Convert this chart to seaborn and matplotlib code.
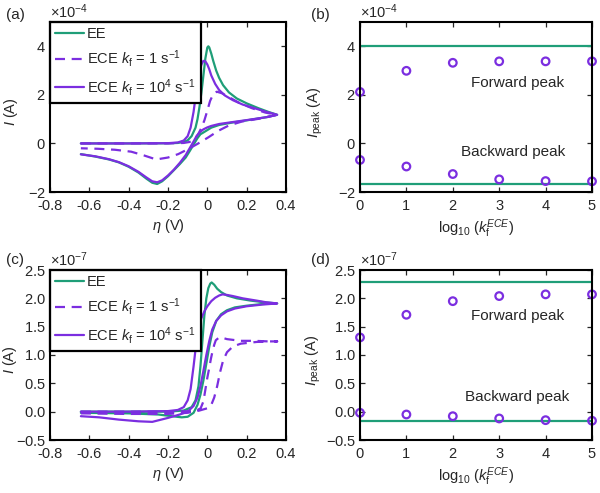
import numpy as np
import pandas as pd
import matplotlib
matplotlib.use("Agg")
import matplotlib.pyplot as plt
import seaborn as sns

# ---------------- data ----------------
# Panel (a): CV curves, current in units of 1e-4 A
a_ee_fwd_x = [-0.643, -0.4, -0.2, -0.15, -0.12, -0.1, -0.08, -0.06, -0.05, -0.04, -0.03, -0.02, -0.01, 0.0, 0.005, 0.01, 0.02, 0.03, 0.045, 0.06, 0.08, 0.11, 0.15, 0.2, 0.26, 0.31, 0.355]
a_ee_fwd_y = [0.0, 0.0, 0.005, 0.02, 0.06, 0.13, 0.3, 0.65, 1.0, 1.5, 2.1, 2.8, 3.5, 3.95, 4.0, 3.95, 3.7, 3.4, 3.0, 2.7, 2.4, 2.1, 1.85, 1.65, 1.45, 1.3, 1.18]
a_ee_bwd_x = [0.355, 0.3, 0.2, 0.12, 0.06, 0.02, 0.0, -0.02, -0.035, -0.05, -0.07, -0.09, -0.11, -0.14, -0.17, -0.2, -0.23, -0.255, -0.28, -0.31, -0.35, -0.4, -0.45, -0.5, -0.57, -0.643]
a_ee_bwd_y = [1.18, 1.08, 0.95, 0.85, 0.76, 0.65, 0.55, 0.45, 0.38, 0.22, -0.05, -0.32, -0.58, -0.85, -1.1, -1.35, -1.56, -1.67, -1.62, -1.45, -1.2, -0.96, -0.78, -0.66, -0.54, -0.44]

a_k1_fwd_x = [-0.643, -0.4, -0.2, -0.12, -0.09, -0.063, -0.045, -0.029, -0.015, -0.003, 0.014, 0.03, 0.048, 0.073, 0.107, 0.16, 0.227, 0.295, 0.355]
a_k1_fwd_y = [0.0, 0.0, 0.0, 0.02, 0.06, 0.18, 0.4, 0.66, 0.95, 1.27, 1.75, 2.03, 2.13, 2.07, 1.92, 1.68, 1.45, 1.27, 1.18]
a_k1_bwd_x = [0.355, 0.28, 0.175, 0.107, 0.056, 0.005, -0.046, -0.097, -0.148, -0.2, -0.26, -0.32, -0.387, -0.47, -0.557, -0.643]
a_k1_bwd_y = [1.18, 1.04, 0.9, 0.73, 0.52, 0.25, 0.0, -0.23, -0.44, -0.58, -0.66, -0.5, -0.34, -0.26, -0.22, -0.2]

a_k4_fwd_x = [-0.643, -0.4, -0.2, -0.15, -0.12, -0.1, -0.085, -0.07, -0.06, -0.05, -0.04, -0.03, -0.02, -0.01, 0.0, 0.01, 0.02, 0.04, 0.06, 0.09, 0.13, 0.18, 0.24, 0.3, 0.355]
a_k4_fwd_y = [0.0, 0.0, 0.01, 0.04, 0.12, 0.3, 0.65, 1.3, 1.9, 2.5, 2.95, 3.25, 3.4, 3.38, 3.25, 3.05, 2.8, 2.45, 2.2, 1.97, 1.78, 1.6, 1.45, 1.3, 1.18]
a_k4_bwd_x = [0.355, 0.3, 0.2, 0.12, 0.06, 0.02, 0.0, -0.02, -0.04, -0.055, -0.07, -0.09, -0.11, -0.14, -0.17, -0.2, -0.23, -0.255, -0.28, -0.31, -0.35, -0.4, -0.45, -0.5, -0.57, -0.643]
a_k4_bwd_y = [1.18, 1.08, 0.96, 0.87, 0.8, 0.72, 0.66, 0.58, 0.45, 0.3, 0.08, -0.2, -0.48, -0.8, -1.08, -1.32, -1.52, -1.6, -1.56, -1.4, -1.17, -0.94, -0.77, -0.65, -0.53, -0.45]

# Panel (c): CV curves, current in units of 1e-7 A
c_ee_fwd_x = [-0.643, -0.4, -0.2, -0.12, -0.08, -0.06, -0.045, -0.035, -0.025, -0.015, -0.005, 0.005, 0.015, 0.022, 0.035, 0.05, 0.07, 0.1, 0.15, 0.22, 0.29, 0.355]
c_ee_fwd_y = [0.0, 0.0, 0.0, 0.02, 0.08, 0.2, 0.45, 0.8, 1.25, 1.7, 2.0, 2.18, 2.26, 2.28, 2.24, 2.17, 2.11, 2.05, 2.0, 1.96, 1.93, 1.91]
c_ee_bwd_x = [0.355, 0.28, 0.2, 0.14, 0.1, 0.07, 0.045, 0.025, 0.01, -0.005, -0.02, -0.035, -0.05, -0.07, -0.1, -0.13, -0.18, -0.25, -0.4, -0.643]
c_ee_bwd_y = [1.91, 1.9, 1.87, 1.84, 1.79, 1.72, 1.6, 1.4, 1.15, 0.85, 0.55, 0.3, 0.12, -0.02, -0.09, -0.1, -0.08, -0.05, -0.03, -0.02]

c_k1_fwd_x = [-0.643, -0.4, -0.2, -0.08, -0.05, -0.034, -0.02, -0.009, 0.0, 0.009, 0.018, 0.026, 0.035, 0.043, 0.06, 0.08, 0.1, 0.17, 0.24, 0.31, 0.355]
c_k1_fwd_y = [0.0, 0.0, 0.0, 0.01, 0.03, 0.06, 0.18, 0.41, 0.6, 0.76, 0.93, 1.06, 1.18, 1.26, 1.31, 1.3, 1.28, 1.25, 1.25, 1.24, 1.24]
c_k1_bwd_x = [0.355, 0.3, 0.25, 0.17, 0.13, 0.1, 0.08, 0.065, 0.05, 0.035, 0.02, 0.0, -0.04, -0.1, -0.2, -0.4, -0.643]
c_k1_bwd_y = [1.24, 1.24, 1.23, 1.2, 1.15, 1.05, 0.9, 0.7, 0.45, 0.25, 0.12, 0.06, 0.02, -0.02, -0.04, -0.04, -0.03]

c_k4_fwd_x = [-0.643, -0.4, -0.2, -0.15, -0.12, -0.1, -0.085, -0.07, -0.06, -0.05, -0.04, -0.03, -0.015, 0.0, 0.02, 0.04, 0.06, 0.077, 0.1, 0.13, 0.18, 0.25, 0.3, 0.355]
c_k4_fwd_y = [0.0, 0.0, 0.01, 0.03, 0.08, 0.2, 0.4, 0.8, 1.1, 1.35, 1.53, 1.65, 1.77, 1.86, 1.95, 2.01, 2.05, 2.07, 2.06, 2.04, 2.0, 1.96, 1.93, 1.91]
c_k4_bwd_x = [0.355, 0.28, 0.2, 0.14, 0.1, 0.07, 0.045, 0.025, 0.01, -0.005, -0.02, -0.035, -0.05, -0.07, -0.1, -0.14, -0.2, -0.28, -0.35, -0.45, -0.55, -0.643]
c_k4_bwd_y = [1.91, 1.89, 1.86, 1.82, 1.77, 1.7, 1.6, 1.45, 1.25, 1.0, 0.72, 0.45, 0.25, 0.1, 0.0, -0.05, -0.11, -0.18, -0.17, -0.14, -0.1, -0.08]

# Panels (b) and (d): peak currents vs log10(kf)
log_kf = [0, 1, 2, 3, 4, 5]
b_fwd_peak = [2.12, 2.99, 3.32, 3.38, 3.38, 3.38]        # x1e-4 A
b_bwd_peak = [-0.68, -0.95, -1.26, -1.48, -1.55, -1.56]  # x1e-4 A
b_ee_fwd, b_ee_bwd = 4.01, -1.66                          # x1e-4 A
d_fwd_peak = [1.31, 1.71, 1.95, 2.04, 2.07, 2.07]         # x1e-7 A
d_bwd_peak = [-0.02, -0.05, -0.08, -0.12, -0.15, -0.16]  # x1e-7 A
d_ee_fwd, d_ee_bwd = 2.28, -0.165                         # x1e-7 A

SCALE_A, SCALE_C = 1e-4, 1e-7

legend_labels = ["EE", r"ECE $k_\mathrm{f}$ = 1 s$^{-1}$", r"ECE $k_\mathrm{f}$ = 10$^4$ s$^{-1}$"]

# ---------------- style ----------------
sns.set_style("ticks")
plt.rcParams["font.family"] = ["Liberation Sans", "DejaVu Sans"]
plt.rcParams["mathtext.fontset"] = "custom"
plt.rcParams["mathtext.rm"] = "Liberation Sans"
plt.rcParams["mathtext.it"] = "Liberation Sans:italic"
plt.rcParams["mathtext.bf"] = "Liberation Sans:bold"
plt.rcParams["axes.unicode_minus"] = False
plt.rcParams["xtick.direction"] = "in"
plt.rcParams["ytick.direction"] = "in"
plt.rcParams["xtick.top"] = True
plt.rcParams["ytick.right"] = True

GREEN = "#1f9e78"
PURPLE = "#7b2ee0"
LW = 1.6
FS = 10.5

fig = plt.figure(figsize=(6.0, 4.93), dpi=100)
ax_a = fig.add_axes([50/600, 1-192/493, 236/600, 170/493])
ax_b = fig.add_axes([360/600, 1-192/493, 232/600, 170/493])
ax_c = fig.add_axes([50/600, 1-440/493, 236/600, 170/493])
ax_d = fig.add_axes([360/600, 1-440/493, 232/600, 170/493])


def curve_df(xs, ys, scale):
    return pd.DataFrame({"x": xs, "y": np.asarray(ys) * scale})


def draw_cv(ax, ee, k1, k4, scale):
    (ef_x, ef_y, eb_x, eb_y) = ee
    (k1f_x, k1f_y, k1b_x, k1b_y) = k1
    (k4f_x, k4f_y, k4b_x, k4b_y) = k4
    sns.lineplot(data=curve_df(ef_x + eb_x, ef_y + eb_y, scale), x="x", y="y", sort=False,
                 estimator=None, color=GREEN, lw=LW, ax=ax, label=legend_labels[0])
    sns.lineplot(data=curve_df(k1f_x + k1b_x, k1f_y + k1b_y, scale), x="x", y="y", sort=False,
                 estimator=None, color=PURPLE, lw=LW, ax=ax, label=legend_labels[1],
                 linestyle=(0, (4.5, 3.0)))
    sns.lineplot(data=curve_df(k4f_x + k4b_x, k4f_y + k4b_y, scale), x="x", y="y", sort=False,
                 estimator=None, color=PURPLE, lw=LW, ax=ax, label=legend_labels[2])
    ax.set_xlim(-0.8, 0.4)
    ax.set_xticks([-0.8, -0.6, -0.4, -0.2, 0, 0.2, 0.4])
    ax.set_xticklabels(["-0.8", "-0.6", "-0.4", "-0.2", "0", "0.2", "0.4"])
    ax.set_xlabel(r"$\eta$ (V)", fontsize=FS, labelpad=3)
    ax.set_ylabel(r"$I$ (A)", fontsize=FS)
    leg = ax.legend(loc="upper left", bbox_to_anchor=(0, 1), borderaxespad=0, fontsize=10.5,
                    frameon=True, fancybox=False, framealpha=1, edgecolor="black",
                    handlelength=2.0, handletextpad=0.2, labelspacing=0.5, borderpad=0.35)
    leg.get_frame().set_linewidth(1.6)


def draw_peaks(ax, fwd, bwd, ee_f, ee_b, scale):
    ax.axhline(ee_f * scale, color=GREEN, lw=LW)
    ax.axhline(ee_b * scale, color=GREEN, lw=LW)
    df = pd.DataFrame({"x": log_kf + log_kf,
                       "y": np.concatenate([np.asarray(fwd), np.asarray(bwd)]) * scale})
    sns.scatterplot(data=df, x="x", y="y", ax=ax, marker="o", s=30, facecolor="none",
                    edgecolor=PURPLE, linewidth=1.6, clip_on=False, zorder=5)
    ax.set_xlim(0, 5)
    ax.set_xticks(log_kf)
    ax.set_xlabel(r"log$_{10}$ ($k_\mathrm{f}^{ECE}$)", fontsize=FS, labelpad=3)
    ax.set_ylabel(r"$I_\mathrm{peak}$ (A)", fontsize=FS)


draw_cv(ax_a, (a_ee_fwd_x, a_ee_fwd_y, a_ee_bwd_x, a_ee_bwd_y),
        (a_k1_fwd_x, a_k1_fwd_y, a_k1_bwd_x, a_k1_bwd_y),
        (a_k4_fwd_x, a_k4_fwd_y, a_k4_bwd_x, a_k4_bwd_y), SCALE_A)
draw_cv(ax_c, (c_ee_fwd_x, c_ee_fwd_y, c_ee_bwd_x, c_ee_bwd_y),
        (c_k1_fwd_x, c_k1_fwd_y, c_k1_bwd_x, c_k1_bwd_y),
        (c_k4_fwd_x, c_k4_fwd_y, c_k4_bwd_x, c_k4_bwd_y), SCALE_C)
draw_peaks(ax_b, b_fwd_peak, b_bwd_peak, b_ee_fwd, b_ee_bwd, SCALE_A)
draw_peaks(ax_d, d_fwd_peak, d_bwd_peak, d_ee_fwd, d_ee_bwd, SCALE_C)

for ax in (ax_a, ax_b):
    ax.set_ylim(-2e-4, 5e-4)
    ax.set_yticks([-2e-4, 0, 2e-4, 4e-4])
for ax in (ax_c, ax_d):
    ax.set_ylim(-0.5e-7, 2.5e-7)
    ax.set_yticks([-0.5e-7, 0, 0.5e-7, 1e-7, 1.5e-7, 2e-7, 2.5e-7])

for ax in (ax_a, ax_b, ax_c, ax_d):
    ax.ticklabel_format(axis="y", style="sci", scilimits=(0, 0), useMathText=True)
    ax.yaxis.get_offset_text().set_fontsize(FS)
    ax.tick_params(axis="both", labelsize=FS, length=3.5, width=0.9)
    ax.tick_params(axis="x", pad=5)
    ax.tick_params(axis="y", pad=3)
    for sp in ax.spines.values():
        sp.set_linewidth(1.5)
        sp.set_color("black")
        sp.set_zorder(10)

ax_a.yaxis.set_label_coords(-0.125, 0.47)
ax_c.yaxis.set_label_coords(-0.13, 0.47)
ax_b.yaxis.set_label_coords(-0.15, 0.47)
ax_d.yaxis.set_label_coords(-0.16, 0.47)

ax_b.text(3.4, 2.48e-4, "Forward peak", ha="center", va="center", fontsize=11)
ax_b.text(3.3, -0.37e-4, "Backward peak", ha="center", va="center", fontsize=11)
ax_d.text(3.4, 1.69e-7, "Forward peak", ha="center", va="center", fontsize=11)
ax_d.text(3.38, 0.26e-7, "Backward peak", ha="center", va="center", fontsize=11)

for lbl, x, y in (("(a)", 6/600, 1-15/493), ("(b)", 311/600, 1-15/493),
                  ("(c)", 6/600, 1-260/493), ("(d)", 311/600, 1-260/493)):
    fig.text(x, y, lbl, fontsize=11, ha="left", va="center")

fig.savefig("out.png", dpi=100)
